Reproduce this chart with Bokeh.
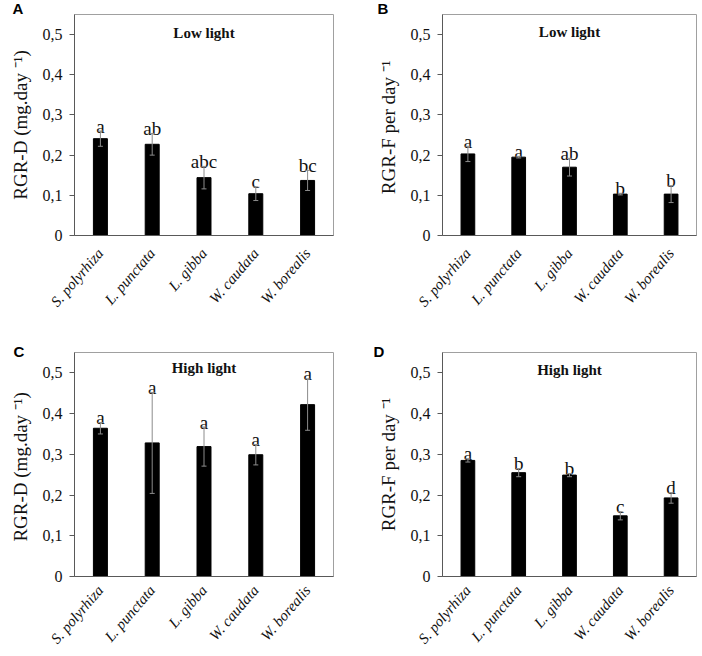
from bokeh.plotting import figure
from bokeh.layouts import gridplot
from bokeh.models import (ColumnDataSource, Whisker, TeeHead, Label, FixedTicker,
                          Range1d, FactorRange)
from bokeh.embed import file_html
from bokeh.resources import INLINE
from bokeh.core.properties import value

species = ["S. polyrhiza", "L. punctata", "L. gibba", "W. caudata", "W. borealis"]

y_ticks = [0, 0.1, 0.2, 0.3, 0.4, 0.5]
y_tick_labels = ["0", "0,1", "0,2", "0,3", "0,4", "0,5"]

# Panel A: Low light, RGR-D
a_vals = [0.241, 0.227, 0.144, 0.104, 0.137]
a_errs = [0.019, 0.027, 0.028, 0.017, 0.025]
a_sig = ["a", "ab", "abc", "c", "bc"]

# Panel B: Low light, RGR-F
b_vals = [0.203, 0.195, 0.170, 0.103, 0.103]
b_errs = [0.019, 0.002, 0.022, 0.002, 0.021]
b_sig = ["a", "a", "ab", "b", "b"]

# Panel C: High light, RGR-D
c_vals = [0.364, 0.328, 0.319, 0.299, 0.422]
c_errs = [0.014, 0.124, 0.048, 0.025, 0.063]
c_sig = ["a", "a", "a", "a", "a"]

# Panel D: High light, RGR-F
d_vals = [0.285, 0.255, 0.249, 0.149, 0.193]
d_errs = [0.004, 0.010, 0.004, 0.010, 0.013]
d_sig = ["a", "b", "b", "c", "d"]

SERIF = "Liberation Serif"
ERR_COLOR = "#8c8c8c"
AXIS_COLOR = "#595959"


def panel(vals, errs, sig, ylabel, title, letter, borders, title_dy, letter_dx,
          letter_standoff, xlabel_standoff, label_overrides=None):
    left, right, top, bottom = borders
    src = ColumnDataSource(dict(
        x=species, top=vals,
        hi=[v + e for v, e in zip(vals, errs)],
        lo=[v - e for v, e in zip(vals, errs)],
        sig=sig,
    ))
    p = figure(x_range=FactorRange(factors=species), y_range=Range1d(0, 0.55),
               width=351, height=328, output_backend="svg", toolbar_location=None,
               min_border_left=left, min_border_right=right,
               min_border_top=top, min_border_bottom=bottom)
    p.vbar(x="x", top="top", width=0.27, source=src, fill_color="black",
           line_color="black")
    w = Whisker(base="x", upper="hi", lower="lo", source=src,
                line_color=ERR_COLOR, line_width=1, level="overlay",
                upper_head=TeeHead(size=5, line_color=ERR_COLOR, line_width=1),
                lower_head=TeeHead(size=5, line_color=ERR_COLOR, line_width=1))
    p.add_layout(w)
    p.text(x="x", y="hi", text="sig", source=src, text_font=value(SERIF),
           text_font_size="19px", text_align="center", text_baseline="alphabetic",
           y_offset=-5, text_color="#111111")

    # in-frame panel heading
    p.add_layout(Label(x=len(species) / 2, y=0.55, y_offset=-title_dy, text=title,
                       text_font=SERIF, text_font_style="bold",
                       text_font_size="15px", text_align="center",
                       text_baseline="middle", text_color="#111111"))

    # panel letter (figure title, placed left of the frame)
    p.title.text = letter
    p.title.align = "left"
    p.title.offset = letter_dx
    p.title.text_font = "Liberation Sans"
    p.title.text_font_style = "bold"
    p.title.text_font_size = "15px"
    p.title.text_color = "black"
    try:
        p.title.standoff = letter_standoff
    except Exception:
        p.title.standoff = 0

    p.xgrid.grid_line_color = None
    p.ygrid.grid_line_color = None
    p.outline_line_color = "#a0a0a0"

    p.yaxis.ticker = FixedTicker(ticks=y_ticks)
    p.yaxis.major_label_overrides = dict(zip(y_ticks, y_tick_labels))
    p.yaxis.axis_label = ylabel
    p.yaxis.axis_label_text_font = SERIF
    p.yaxis.axis_label_text_font_style = "normal"
    p.yaxis.axis_label_text_font_size = "19px"
    p.yaxis.axis_label_text_color = "#111111"
    p.yaxis.axis_label_standoff = 9
    p.yaxis.major_label_text_font = SERIF
    p.yaxis.major_label_text_font_size = "16px"
    p.yaxis.major_label_text_color = "#111111"
    p.yaxis.major_tick_line_color = AXIS_COLOR
    p.yaxis.minor_tick_line_color = None
    p.yaxis.major_tick_out = 5
    p.yaxis.major_tick_in = 0
    p.yaxis.major_label_standoff = 7
    p.yaxis.axis_line_color = AXIS_COLOR

    p.xaxis.major_label_orientation = 0.86
    p.xaxis.major_label_text_font = SERIF
    p.xaxis.major_label_text_font_style = "italic"
    p.xaxis.major_label_text_font_size = "15px"
    p.xaxis.major_label_text_color = "#111111"
    p.xaxis.major_tick_line_color = None
    p.xaxis.major_tick_out = 0
    p.xaxis.major_tick_in = 0
    p.xaxis.major_label_standoff = xlabel_standoff
    p.xaxis.axis_line_color = AXIS_COLOR
    if label_overrides:
        p.xaxis.major_label_overrides = label_overrides
    return p


pa = panel(a_vals, a_errs, a_sig, "RGR-D (mg.day \u207b\u00b9)", "Low light", "A",
           (74, 18, 12, 93), 18, -62, -5, 15)
pb = panel(b_vals, b_errs, b_sig, "RGR-F  per day \u207b\u00b9", "Low light", "B",
           (87, 6, 12, 93), 17, -65, -5, 15)
pc = panel(c_vals, c_errs, c_sig, "RGR-D  (mg.day \u207b\u00b9)", "High light", "C",
           (74, 17, 24, 80), 15, -61, -15, 11,
           label_overrides={"S. polyrhiza": "S. \u2026"})
pd_ = panel(d_vals, d_errs, d_sig, "RGR-F per day \u207b\u00b9", "High light", "D",
            (91, 5, 24, 79), 17, -69, -15, 11)

grid = gridplot([[pa, pb], [pc, pd_]], toolbar_location=None)

open("out.html", "w").write(file_html(grid, INLINE))
